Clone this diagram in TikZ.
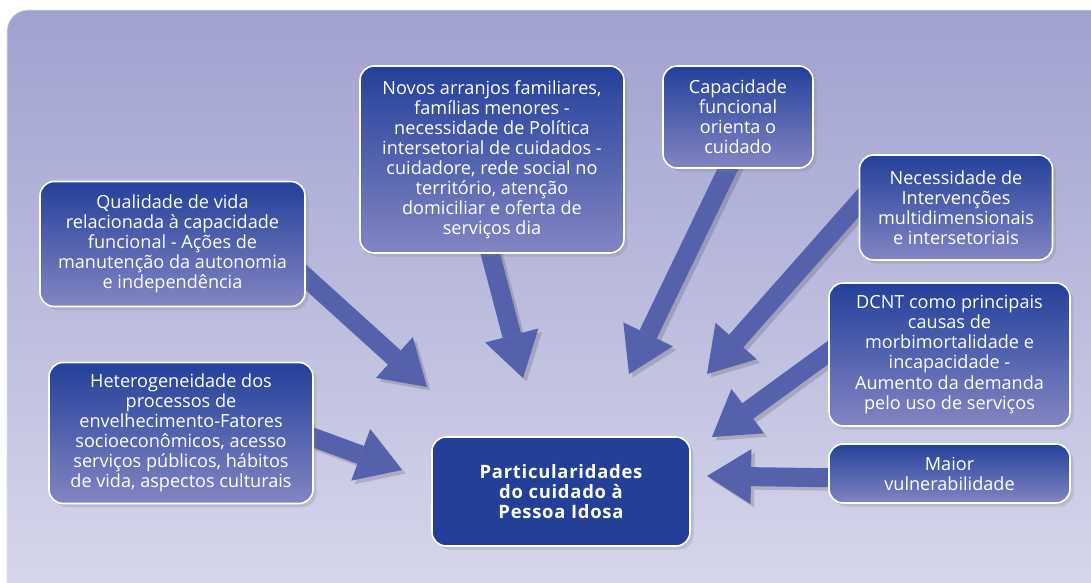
\documentclass[tikz,border=0pt]{standalone}
\usepackage{fontspec}
\setmainfont{Open Sans}
\usetikzlibrary{arrows.meta}
\usetikzlibrary{shadows}
\usetikzlibrary{calc,backgrounds}

\definecolor{fundotopo}{HTML}{A0A1D0}
\definecolor{fundobase}{HTML}{D8D8EC}
\definecolor{caixatopo}{HTML}{24409A}
\definecolor{caixabase}{HTML}{8285C2}
\definecolor{centrocor}{HTML}{233F98}
\definecolor{setacor}{HTML}{5561AB}

\begin{document}
\begin{tikzpicture}[x=0.02cm, y=-0.02cm,
    caixa/.style={draw=white, line width=0.9pt, rounded corners=8pt,
        top color=caixatopo, bottom color=caixabase, text=white, align=center,
        inner sep=2pt, font=\fontsize{10.3}{11.4}\selectfont,
        drop shadow={opacity=0.25, shadow xshift=2pt, shadow yshift=-2pt}},
    caixacentro/.style={caixa, fill=centrocor, top color=centrocor, bottom color=centrocor,
        font=\fontsize{10.5}{11.4}\selectfont\bfseries\addfontfeature{LetterSpace=4}},
    seta/.style={draw=setacor, line width=0.38cm,
        -{Triangle[width=1.1cm, length=0.88cm, line width=0pt]}},
    sombra/.style={seta, draw=black, opacity=0.15,
        transform canvas={xshift=2pt, yshift=-2pt}}]

    \useasboundingbox (0,0) rectangle (1091,582);

    \node[caixa, minimum width=5.3cm, minimum height=2.5cm] (qual) at (172.5,244)
        {Qualidade de vida\\relacionada à capacidade\\funcional - Ações de\\manutenção da autonomia\\e independência};
    \node[caixa, minimum width=5.28cm, minimum height=3.74cm] (novos) at (492,159.5)
        {Novos arranjos familiares,\\famílias menores -\\necessidade de Política\\intersetorial de cuidados -\\cuidadore, rede social no\\território, atenção\\domiciliar e oferta de\\serviços dia};
    \node[caixa, minimum width=3cm, minimum height=2.04cm] (capac) at (738,117)
        {Capacidade\\funcional\\orienta o\\cuidado};
    \node[caixa, minimum width=3.86cm, minimum height=2.1cm] (neces) at (956,207.5)
        {Necessidade de\\Intervenções\\multidimensionais\\e intersetoriais};
    \node[caixa, minimum width=4.82cm, minimum height=2.86cm] (dcnt) at (949.5,354.5)
        {DCNT como principais\\causas de\\morbimortalidade e\\incapacidade -\\Aumento da demanda\\pelo uso de serviços};
    \node[caixa, minimum width=4.82cm, minimum height=1.18cm] (maior) at (949.5,473.5)
        {Maior\\vulnerabilidade};
    \node[caixa, minimum width=5.28cm, minimum height=2.82cm] (heter) at (181,433)
        {Heterogeneidade dos\\processos de\\envelhecimento-Fatores\\socioeconômicos, acesso\\serviços públicos, hábitos\\de vida, aspectos culturais};
    \node[caixacentro, minimum width=5.16cm, minimum height=2.18cm] (centro) at (561,491.5)
        {Particularidades\\do cuidado à\\Pessoa Idosa};

    % pontas das setas
    \coordinate (t1) at (427,387);
    \coordinate (t2) at (523,378);
    \coordinate (t3) at (629,374);
    \coordinate (t4) at (707,374);
    \coordinate (t5) at (712,437);
    \coordinate (t6) at (707,476);
    \coordinate (t7) at (402,470);

    \begin{scope}[on background layer]
        \begin{scope}
            \clip (0,0) rectangle (1091,582);
            \shade[top color=fundotopo, bottom color=fundobase, draw=gray!25,
                rounded corners=12pt] (7,10) rectangle (1120,610);
        \end{scope}
        \foreach \de/\para in {qual.-14/t1, novos.-91/t2, capac.-101/t3, neces.177/t4,
                dcnt.179/t5, maior.-178/t6, heter.-2/t7} {
            \draw[sombra] ($(\de)!-8pt!(\para)$) -- (\para);
            \draw[seta] ($(\de)!-8pt!(\para)$) -- (\para);
        }
    \end{scope}

\end{tikzpicture}
\end{document}
